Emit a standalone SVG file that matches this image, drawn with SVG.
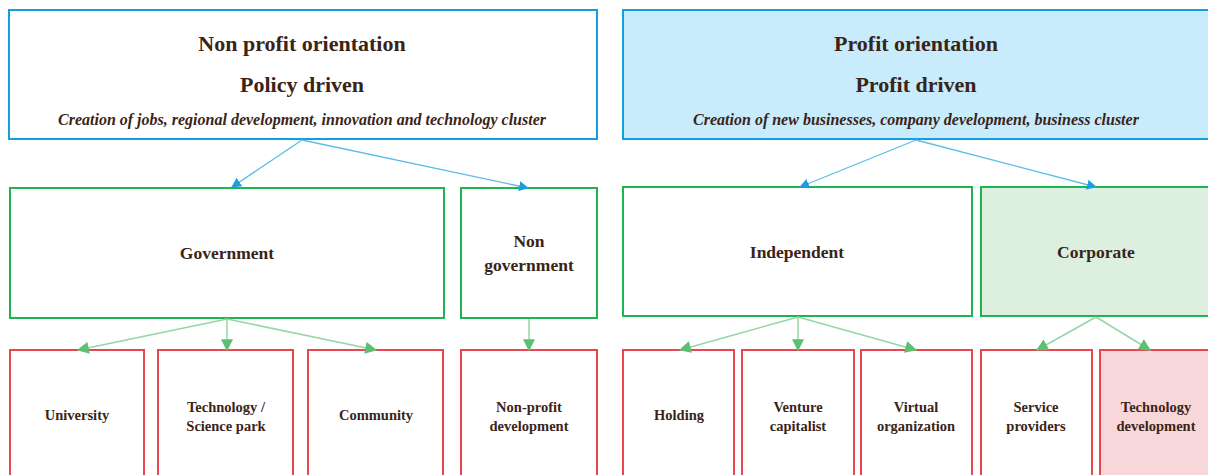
<svg xmlns="http://www.w3.org/2000/svg" width="1208" height="475" viewBox="0 0 1208 475">
<defs>
<marker id="ab" markerWidth="10" markerHeight="10" viewBox="0 0 10 10" refX="9" refY="5" orient="auto" markerUnits="userSpaceOnUse">
<path d="M0,0 L10,5 L0,10 Z" fill="#1a9ee0"/>
</marker>
<marker id="ag" markerWidth="13" markerHeight="12" viewBox="0 0 10 10" refX="9" refY="5" orient="auto" markerUnits="userSpaceOnUse">
<path d="M0,0 L10,5 L0,10 Z" fill="#5cbf72"/>
</marker>
<style>
.top{stroke:#12a0dc;stroke-width:2}
.mid{stroke:#1db451;stroke-width:2}
.bot{stroke:#e8474f;stroke-width:2}
.t{font-family:"Liberation Serif","Times New Roman",serif;font-weight:bold;fill:#3a2418;text-anchor:middle}
.h{font-size:22px}
.i{font-size:16px;font-style:italic}
.m{font-size:17.5px}
.s{font-size:14.5px}
.cb{stroke:#5bbde9;stroke-width:1.3;fill:none;marker-end:url(#ab)}
.cg{stroke:#95d6a5;stroke-width:1.5;fill:none;marker-end:url(#ag)}
</style>
</defs>
<g id="n-nonprofit">
<rect class="top" x="9" y="10" width="588" height="129" fill="#fff"/>
<text class="t h" x="302" y="51">Non profit orientation</text>
<text class="t h" x="302" y="92">Policy driven</text>
<text class="t i" x="302" y="125">Creation of jobs, regional development, innovation and technology cluster</text>
</g>
<g id="n-profit">
<rect class="top" x="623" y="10" width="590" height="129" fill="#c8ecfb"/>
<text class="t h" x="916" y="51">Profit orientation</text>
<text class="t h" x="916" y="92">Profit driven</text>
<text class="t i" x="916" y="125">Creation of new businesses, company development, business cluster</text>
</g>
<g id="n-government">
<rect class="mid" x="10" y="188" width="434" height="130" fill="#fff"/>
<text class="t m" x="227" y="259">Government</text>
</g>
<g id="n-nongov">
<rect class="mid" x="461" y="188" width="136" height="130" fill="#fff"/>
<text class="t m" x="529" y="247">Non</text>
<text class="t m" x="529" y="271">government</text>
</g>
<g id="n-independent">
<rect class="mid" x="623" y="187" width="349" height="129" fill="#fff"/>
<text class="t m" x="797" y="258">Independent</text>
</g>
<g id="n-corporate">
<rect class="mid" x="981" y="187" width="232" height="129" fill="#ddf0e0"/>
<text class="t m" x="1096" y="258">Corporate</text>
</g>
<g id="n-university">
<rect class="bot" x="10" y="350" width="134" height="140" fill="#fff"/>
<text class="t s" x="77" y="420">University</text>
</g>
<g id="n-techpark">
<rect class="bot" x="158" y="350" width="135" height="140" fill="#fff"/>
<text class="t s" x="226" y="412">Technology /</text>
<text class="t s" x="226" y="431">Science park</text>
</g>
<g id="n-community">
<rect class="bot" x="308" y="350" width="135" height="140" fill="#fff"/>
<text class="t s" x="376" y="420">Community</text>
</g>
<g id="n-nonprofitdev">
<rect class="bot" x="461" y="350" width="136" height="140" fill="#fff"/>
<text class="t s" x="529" y="412">Non-profit</text>
<text class="t s" x="529" y="431">development</text>
</g>
<g id="n-holding">
<rect class="bot" x="623" y="350" width="111" height="140" fill="#fff"/>
<text class="t s" x="679" y="420">Holding</text>
</g>
<g id="n-venture">
<rect class="bot" x="742" y="350" width="112" height="140" fill="#fff"/>
<text class="t s" x="798" y="412">Venture</text>
<text class="t s" x="798" y="431">capitalist</text>
</g>
<g id="n-virtual">
<rect class="bot" x="861" y="350" width="111" height="140" fill="#fff"/>
<text class="t s" x="916" y="412">Virtual</text>
<text class="t s" x="916" y="431">organization</text>
</g>
<g id="n-service">
<rect class="bot" x="981" y="350" width="111" height="140" fill="#fff"/>
<text class="t s" x="1036" y="412">Service</text>
<text class="t s" x="1036" y="431">providers</text>
</g>
<g id="n-techdev">
<rect class="bot" x="1100" y="350" width="113" height="140" fill="#f8d7da"/>
<text class="t s" x="1156" y="412">Technology</text>
<text class="t s" x="1156" y="431">development</text>
</g>
<g id="connectors">
<line class="cb" x1="302" y1="140" x2="232" y2="187"/>
<line class="cb" x1="302" y1="140" x2="528" y2="188"/>
<line class="cb" x1="916" y1="140" x2="800" y2="187"/>
<line class="cb" x1="916" y1="140" x2="1096" y2="187"/>
<line class="cg" x1="227" y1="319" x2="78" y2="350"/>
<line class="cg" x1="227" y1="319" x2="227" y2="350"/>
<line class="cg" x1="227" y1="319" x2="376" y2="350"/>
<line class="cg" x1="529" y1="319" x2="529" y2="350"/>
<line class="cg" x1="798" y1="317" x2="680" y2="350"/>
<line class="cg" x1="798" y1="317" x2="798" y2="350"/>
<line class="cg" x1="798" y1="317" x2="916" y2="350"/>
<line class="cg" x1="1096" y1="317" x2="1037" y2="350"/>
<line class="cg" x1="1096" y1="317" x2="1150" y2="350"/>
</g>
</svg>
